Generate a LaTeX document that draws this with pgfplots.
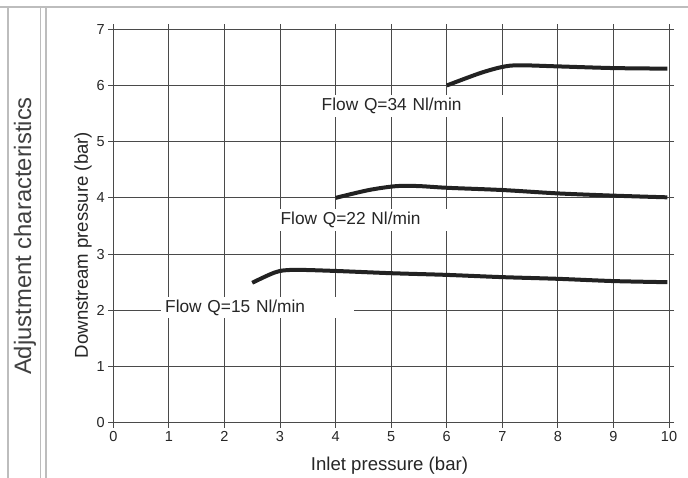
\documentclass[border=0pt]{standalone}
\usepackage{pgfplots}
\pgfplotsset{compat=1.18}
\usepackage{fontspec}
\setmainfont{Liberation Sans}
\definecolor{gridc}{HTML}{4A4A4A}
\definecolor{framec}{HTML}{BDBDBD}
\definecolor{curvec}{HTML}{222222}
\definecolor{textc}{HTML}{262626}
\definecolor{titlec}{HTML}{404040}
\begin{document}
\begin{tikzpicture}
\useasboundingbox (0pt,0pt) rectangle (688pt,478pt);
\fill[white] (0pt,0pt) rectangle (688pt,478pt);
\draw[framec, line width=1.3pt] (0pt,471pt) -- (688pt,471pt);
\draw[framec, line width=1.3pt] (8pt,0pt) -- (8pt,471pt);
\draw[framec, line width=1.6pt] (40.3pt,0pt) -- (40.3pt,471pt);
\draw[framec, line width=1.3pt] (46pt,0pt) -- (46pt,471pt);
\node[rotate=90, font=\fontsize{23.8}{26}\selectfont, text=titlec] at (25pt,242pt) {Adjustment characteristics};
\begin{axis}[
  at={(113.3pt,55.3pt)}, anchor=south west,
  width=555.7pt, height=393.4pt, scale only axis,
  xmin=0, xmax=10, ymin=0, ymax=7,
  xtick={0,1,...,10}, ytick={0,1,...,7},
  grid=major,
  grid style={gridc, line width=1pt},
  axis line style={gridc, line width=1pt},
  tick style={gridc, line width=1pt},
  tick align=outside, major tick length=5pt,
  ticklabel style={font=\fontsize{14.5}{16}\selectfont, text=textc},
  /pgf/number format/assume math mode=true,
  xlabel={Inlet pressure (bar)},
  ylabel={Downstream pressure (bar)},
  label style={font=\fontsize{18.6}{20}\selectfont, text=textc},
  xlabel style={at={(axis description cs:0.497,-0.110)}, anchor=center},
  ylabel style={at={(axis description cs:-0.0545,0.4517)}, anchor=center},
]
\addplot[curvec, line width=4pt, smooth, tension=0.5] coordinates {
 (6,6.00) (6.6,6.22) (7.0,6.33) (7.3,6.36) (8,6.34) (9,6.31) (9.97,6.30)};
\addplot[curvec, line width=4pt, smooth, tension=0.5] coordinates {
 (4,4.00) (4.6,4.14) (5.1,4.21) (5.5,4.21) (6,4.18) (7,4.14) (8,4.08) (9,4.04) (9.97,4.01)};
\addplot[curvec, line width=4pt, smooth, tension=0.5] coordinates {
 (2.5,2.49) (2.8,2.63) (3.0,2.70) (3.3,2.72) (4,2.70) (5,2.66) (6,2.63) (7,2.59) (8,2.56) (9,2.52) (9.97,2.50)};
\node[fill=white, anchor=west, inner xsep=4.3pt, inner ysep=0pt, minimum height=21.6pt, text width=177.4pt, align=left, font=\fontsize{17.3}{19}\selectfont, text=textc] at (axis cs:3.67,5.64) {Flow Q=34 Nl/min};
\node[fill=white, anchor=west, inner xsep=4.3pt, inner ysep=0pt, minimum height=21.6pt, text width=191.4pt, align=left, font=\fontsize{17.3}{19}\selectfont, text=textc] at (axis cs:2.93,3.61) {Flow Q=22 Nl/min};
\node[fill=white, anchor=west, inner xsep=4.3pt, inner ysep=0pt, minimum height=21.6pt, text width=184pt, align=left, font=\fontsize{17.3}{19}\selectfont, text=textc] at (axis cs:0.853,2.05) {Flow Q=15 Nl/min};
\end{axis}
\end{tikzpicture}
\end{document}
